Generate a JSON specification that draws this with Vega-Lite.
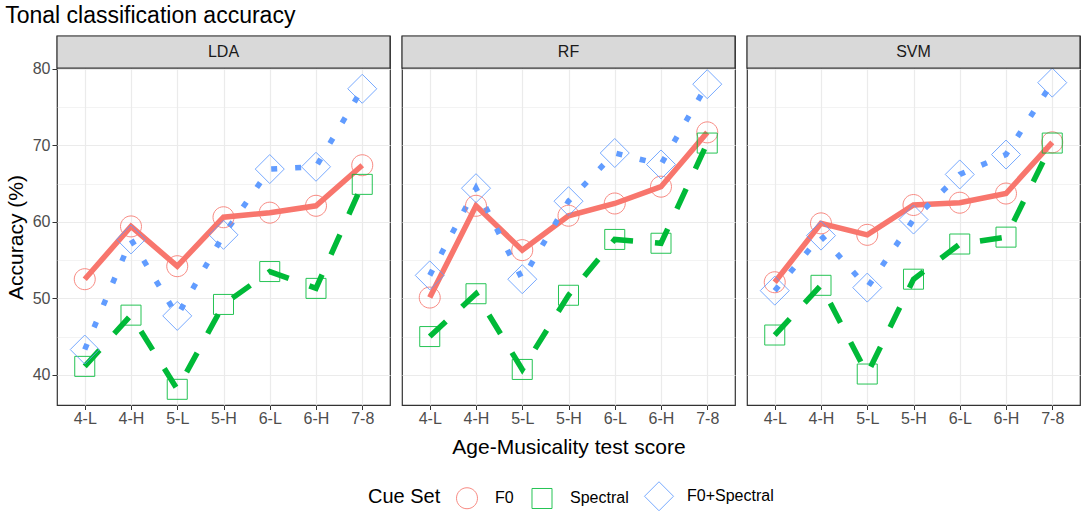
{
  "$schema": "https://vega.github.io/schema/vega-lite/v6.json",
  "padding": {"left": 5, "top": 4, "right": 4, "bottom": 4},
  "title": {
    "text": "Tonal classification accuracy",
    "anchor": "start",
    "fontSize": 23,
    "fontWeight": "normal",
    "color": "#000000",
    "offset": 7
  },
  "data": {
    "values": [
      {"Classifier": "LDA", "Group": "4-L", "CueSet": "F0", "Accuracy": 52.5},
      {"Classifier": "LDA", "Group": "4-H", "CueSet": "F0", "Accuracy": 59.4},
      {"Classifier": "LDA", "Group": "5-L", "CueSet": "F0", "Accuracy": 54.2},
      {"Classifier": "LDA", "Group": "5-H", "CueSet": "F0", "Accuracy": 60.6},
      {"Classifier": "LDA", "Group": "6-L", "CueSet": "F0", "Accuracy": 61.2},
      {"Classifier": "LDA", "Group": "6-H", "CueSet": "F0", "Accuracy": 62.1},
      {"Classifier": "LDA", "Group": "7-8", "CueSet": "F0", "Accuracy": 67.4},
      {"Classifier": "LDA", "Group": "4-L", "CueSet": "Spectral", "Accuracy": 41.1},
      {"Classifier": "LDA", "Group": "4-H", "CueSet": "Spectral", "Accuracy": 47.8},
      {"Classifier": "LDA", "Group": "5-L", "CueSet": "Spectral", "Accuracy": 38.1},
      {"Classifier": "LDA", "Group": "5-H", "CueSet": "Spectral", "Accuracy": 49.2},
      {"Classifier": "LDA", "Group": "6-L", "CueSet": "Spectral", "Accuracy": 53.5},
      {"Classifier": "LDA", "Group": "6-H", "CueSet": "Spectral", "Accuracy": 51.3},
      {"Classifier": "LDA", "Group": "7-8", "CueSet": "Spectral", "Accuracy": 64.9},
      {"Classifier": "LDA", "Group": "4-L", "CueSet": "F0+Spectral", "Accuracy": 43.3},
      {"Classifier": "LDA", "Group": "4-H", "CueSet": "F0+Spectral", "Accuracy": 57.7},
      {"Classifier": "LDA", "Group": "5-L", "CueSet": "F0+Spectral", "Accuracy": 47.7},
      {"Classifier": "LDA", "Group": "5-H", "CueSet": "F0+Spectral", "Accuracy": 58.3},
      {"Classifier": "LDA", "Group": "6-L", "CueSet": "F0+Spectral", "Accuracy": 66.9},
      {"Classifier": "LDA", "Group": "6-H", "CueSet": "F0+Spectral", "Accuracy": 67.2},
      {"Classifier": "LDA", "Group": "7-8", "CueSet": "F0+Spectral", "Accuracy": 77.4},
      {"Classifier": "RF", "Group": "4-L", "CueSet": "F0", "Accuracy": 50.1},
      {"Classifier": "RF", "Group": "4-H", "CueSet": "F0", "Accuracy": 62.1},
      {"Classifier": "RF", "Group": "5-L", "CueSet": "F0", "Accuracy": 56.3},
      {"Classifier": "RF", "Group": "5-H", "CueSet": "F0", "Accuracy": 60.8},
      {"Classifier": "RF", "Group": "6-L", "CueSet": "F0", "Accuracy": 62.4},
      {"Classifier": "RF", "Group": "6-H", "CueSet": "F0", "Accuracy": 64.6},
      {"Classifier": "RF", "Group": "7-8", "CueSet": "F0", "Accuracy": 71.7},
      {"Classifier": "RF", "Group": "4-L", "CueSet": "Spectral", "Accuracy": 45.0},
      {"Classifier": "RF", "Group": "4-H", "CueSet": "Spectral", "Accuracy": 50.6},
      {"Classifier": "RF", "Group": "5-L", "CueSet": "Spectral", "Accuracy": 40.7},
      {"Classifier": "RF", "Group": "5-H", "CueSet": "Spectral", "Accuracy": 50.4},
      {"Classifier": "RF", "Group": "6-L", "CueSet": "Spectral", "Accuracy": 57.7},
      {"Classifier": "RF", "Group": "6-H", "CueSet": "Spectral", "Accuracy": 57.2},
      {"Classifier": "RF", "Group": "7-8", "CueSet": "Spectral", "Accuracy": 70.3},
      {"Classifier": "RF", "Group": "4-L", "CueSet": "F0+Spectral", "Accuracy": 53.0},
      {"Classifier": "RF", "Group": "4-H", "CueSet": "F0+Spectral", "Accuracy": 64.4},
      {"Classifier": "RF", "Group": "5-L", "CueSet": "F0+Spectral", "Accuracy": 52.5},
      {"Classifier": "RF", "Group": "5-H", "CueSet": "F0+Spectral", "Accuracy": 62.7},
      {"Classifier": "RF", "Group": "6-L", "CueSet": "F0+Spectral", "Accuracy": 69.0},
      {"Classifier": "RF", "Group": "6-H", "CueSet": "F0+Spectral", "Accuracy": 67.5},
      {"Classifier": "RF", "Group": "7-8", "CueSet": "F0+Spectral", "Accuracy": 78.0},
      {"Classifier": "SVM", "Group": "4-L", "CueSet": "F0", "Accuracy": 52.1},
      {"Classifier": "SVM", "Group": "4-H", "CueSet": "F0", "Accuracy": 59.8},
      {"Classifier": "SVM", "Group": "5-L", "CueSet": "F0", "Accuracy": 58.3},
      {"Classifier": "SVM", "Group": "5-H", "CueSet": "F0", "Accuracy": 62.2},
      {"Classifier": "SVM", "Group": "6-L", "CueSet": "F0", "Accuracy": 62.5},
      {"Classifier": "SVM", "Group": "6-H", "CueSet": "F0", "Accuracy": 63.7},
      {"Classifier": "SVM", "Group": "7-8", "CueSet": "F0", "Accuracy": 70.4},
      {"Classifier": "SVM", "Group": "4-L", "CueSet": "Spectral", "Accuracy": 45.2},
      {"Classifier": "SVM", "Group": "4-H", "CueSet": "Spectral", "Accuracy": 51.7},
      {"Classifier": "SVM", "Group": "5-L", "CueSet": "Spectral", "Accuracy": 40.1},
      {"Classifier": "SVM", "Group": "5-H", "CueSet": "Spectral", "Accuracy": 52.5},
      {"Classifier": "SVM", "Group": "6-L", "CueSet": "Spectral", "Accuracy": 57.1},
      {"Classifier": "SVM", "Group": "6-H", "CueSet": "Spectral", "Accuracy": 58.0},
      {"Classifier": "SVM", "Group": "7-8", "CueSet": "Spectral", "Accuracy": 70.3},
      {"Classifier": "SVM", "Group": "4-L", "CueSet": "F0+Spectral", "Accuracy": 51.0},
      {"Classifier": "SVM", "Group": "4-H", "CueSet": "F0+Spectral", "Accuracy": 58.2},
      {"Classifier": "SVM", "Group": "5-L", "CueSet": "F0+Spectral", "Accuracy": 51.4},
      {"Classifier": "SVM", "Group": "5-H", "CueSet": "F0+Spectral", "Accuracy": 60.3},
      {"Classifier": "SVM", "Group": "6-L", "CueSet": "F0+Spectral", "Accuracy": 66.2},
      {"Classifier": "SVM", "Group": "6-H", "CueSet": "F0+Spectral", "Accuracy": 68.8},
      {"Classifier": "SVM", "Group": "7-8", "CueSet": "F0+Spectral", "Accuracy": 78.2}
    ]
  },
  "facet": {
    "column": {
      "field": "Classifier",
      "type": "nominal",
      "sort": ["LDA", "RF", "SVM"],
      "header": {
        "labels": false,
        "title": "Age-Musicality test score",
        "titleOrient": "bottom",
        "titleFontSize": 21,
        "titleFontWeight": "normal",
        "titleColor": "#000000",
        "titlePadding": 0
      }
    }
  },
  "spacing": 12,
  "bounds": "flush",
  "spec": {
    "width": 333,
    "height": 369,
    "layer": [
      {
        "transform": [{"filter": "datum.CueSet == 'F0'"}],
        "mark": {"type": "line", "strokeWidth": 5.5, "strokeCap": "butt"},
        "encoding": {
          "x": {
            "field": "Group",
            "type": "ordinal",
            "sort": ["4-L", "4-H", "5-L", "5-H", "6-L", "6-H", "7-8"],
            "scale": {"type": "point", "padding": 0.6},
            "axis": {
              "title": null,
              "labelAngle": 0,
              "labelFontSize": 16,
              "labelColor": "#4D4D4D",
              "labelPadding": 1,
              "tickColor": "#333333",
              "tickSize": 4.5,
              "domain": false,
              "grid": true,
              "gridColor": "#EBEBEB",
              "gridWidth": 1.2
            }
          },
          "y": {
            "field": "Accuracy",
            "type": "quantitative",
            "scale": {"domain": [36.05, 84.3], "nice": false, "zero": false},
            "axis": {
              "title": "Accuracy (%)",
              "titleFontSize": 21,
              "titleFontWeight": "normal",
              "titleColor": "#000000",
              "titlePadding": 6,
              "titleY": 201,
              "values": [40, 45, 50, 55, 60, 65, 70, 75, 80],
              "labelExpr": "datum.value % 10 == 0 ? datum.label : ''",
              "labelFontSize": 16,
              "labelColor": "#4D4D4D",
              "labelPadding": 2,
              "tickColor": {"condition": {"test": "datum.value % 10 != 0", "value": "transparent"}, "value": "#333333"},
              "tickSize": 5,
              "domain": false,
              "grid": true,
              "gridColor": "#EBEBEB",
              "gridWidth": {"condition": {"test": "datum.value % 10 != 0", "value": 0.6}, "value": 1.2}
            }
          },
          "color": {
            "field": "CueSet",
            "type": "nominal",
            "title": "Cue Set",
            "scale": {"domain": ["F0", "Spectral", "F0+Spectral"], "range": ["#F8766D", "#00BA38", "#619CFF"]},
            "legend": {
              "orient": "none",
              "legendX": 311,
              "legendY": 445,
              "direction": "horizontal",
              "titleOrient": "left",
              "titleAnchor": "middle",
              "titleBaseline": "middle",
              "titleFontSize": 20,
              "titleFontWeight": "normal",
              "titleColor": "#000000",
              "titlePadding": 11,
              "labelFontSize": 16,
              "labelColor": "#000000",
              "labelOffset": 13,
              "symbolSize": 841,
              "symbolStrokeWidth": 1,
              "columnPadding": 13
            }
          }
        }
      },
      {
        "transform": [{"filter": "datum.CueSet == 'Spectral'"}],
        "mark": {"type": "line", "strokeWidth": 5.5, "strokeCap": "butt", "strokeDash": [22, 22]},
        "encoding": {
          "x": {"field": "Group", "type": "ordinal", "sort": ["4-L", "4-H", "5-L", "5-H", "6-L", "6-H", "7-8"]},
          "y": {"field": "Accuracy", "type": "quantitative"},
          "color": {"field": "CueSet", "type": "nominal", "title": "Cue Set"}
        }
      },
      {
        "transform": [{"filter": "datum.CueSet == 'F0+Spectral'"}],
        "mark": {"type": "line", "strokeWidth": 5.5, "strokeCap": "butt", "strokeDash": [6, 18]},
        "encoding": {
          "x": {"field": "Group", "type": "ordinal", "sort": ["4-L", "4-H", "5-L", "5-H", "6-L", "6-H", "7-8"]},
          "y": {"field": "Accuracy", "type": "quantitative"},
          "color": {"field": "CueSet", "type": "nominal", "title": "Cue Set"}
        }
      },
      {
        "mark": {"type": "point", "filled": false, "strokeWidth": 1, "opacity": 0.85, "size": 841},
        "encoding": {
          "x": {"field": "Group", "type": "ordinal", "sort": ["4-L", "4-H", "5-L", "5-H", "6-L", "6-H", "7-8"]},
          "y": {"field": "Accuracy", "type": "quantitative"},
          "color": {"field": "CueSet", "type": "nominal", "title": "Cue Set"},
          "shape": {
            "field": "CueSet",
            "type": "nominal",
            "title": "Cue Set",
            "scale": {
              "domain": ["F0", "Spectral", "F0+Spectral"],
              "range": [
                "M-0.724,0A0.724,0.724,0,1,1,0.724,0A0.724,0.724,0,1,1,-0.724,0Z",
                "M-0.69,-0.69H0.69V0.69H-0.69Z",
                "M0,-1L1,0L0,1L-1,0Z"
              ]
            }
          }
        }
      },
      {
        "transform": [{"aggregate": [{"op": "count", "as": "n"}], "groupby": ["Classifier"]}],
        "mark": {"type": "rect", "fill": "#D9D9D9", "stroke": "#333333", "strokeWidth": 1.2},
        "encoding": {
          "y": {"datum": 80.1},
          "y2": {"datum": 84.3}
        }
      },
      {
        "transform": [{"aggregate": [{"op": "count", "as": "n"}], "groupby": ["Classifier"]}],
        "mark": {"type": "text", "fontSize": 16, "color": "#1A1A1A", "baseline": "middle"},
        "encoding": {
          "y": {"datum": 82.2},
          "text": {"field": "Classifier"}
        }
      }
    ]
  },
  "config": {
    "font": "Liberation Sans",
    "view": {"stroke": "#333333", "strokeWidth": 1.2}
  }
}
